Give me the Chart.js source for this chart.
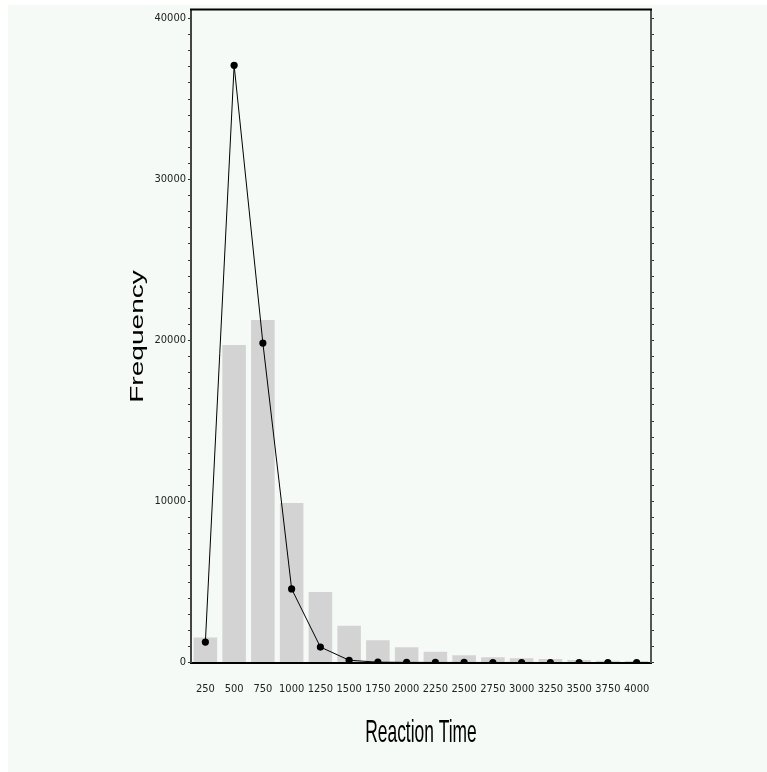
<!DOCTYPE html>
<html>
<head>
<meta charset="utf-8">
<script src="https://cdn.jsdelivr.net/npm/chart.js@4/dist/chart.umd.min.js"></script>
<style>
  html, body { margin: 0; padding: 0; background: #ffffff; }
  #frame { position: absolute; left: 8px; top: 5px; width: 759px; height: 767px; background: #f5faf7; }
  #chart { position: absolute; left: 0; top: 0; }
</style>
</head>
<body>
<div id="frame"></div>
<canvas id="chart" width="767" height="772"></canvas>
<script>
// Reaction time bins (ms)
const categories = ["250", "500", "750", "1000", "1250", "1500", "1750", "2000",
  "2250", "2500", "2750", "3000", "3250", "3500", "3750", "4000"];

// grey histogram bars
const barCounts = [1550, 19720, 21270, 9900, 4380, 2290, 1380, 940,
  670, 450, 320, 260, 215, 155, 110, 90];

// black line with dots
const lineCounts = [1270, 37090, 19840, 4570, 960, 140, 20, 8,
  4, 2, 1, 1, 0, 0, 0, 0];

// y axis: minor tick every 1000, labelled ones
const yMin = 0;
const yMax = 40560;
const yMinorStep = 1000;
const yLabels = [0, 10000, 20000, 30000, 40000];

const TICK_FONT = { family: "'Liberation Sans Narrow', 'DejaVu Sans Condensed', 'Liberation Sans', Arial, sans-serif", size: 11 };

function minorTicks(scale) {
  const ticks = [];
  for (let v = yMin; v <= yMax; v += yMinorStep) ticks.push({ value: v });
  scale.ticks = ticks;
}

// axis titles are stretched like in the original picture
const axisTitles = {
  id: "axisTitles",
  afterDraw(chart) {
    const ctx = chart.ctx;
    ctx.save();
    ctx.fillStyle = "#000";
    ctx.textAlign = "center";
    ctx.textBaseline = "alphabetic";

    ctx.font = "18.6px 'Liberation Sans', Arial, sans-serif";
    ctx.save();
    ctx.translate(143, 336.5);
    ctx.rotate(-Math.PI / 2);
    ctx.scale(1.51, 1);
    ctx.fillText("Frequency", 0, 0);
    ctx.restore();

    ctx.font = "17.4px 'Liberation Sans', Arial, sans-serif";
    ctx.save();
    ctx.translate(421, 741.7);
    ctx.scale(1, 1.8);
    ctx.fillText("Reaction Time", 0, 0);
    ctx.restore();

    // top frame line
    const a = chart.chartArea;
    ctx.strokeStyle = "#000";
    ctx.lineWidth = 2;
    ctx.beginPath();
    ctx.moveTo(a.left - 1, a.top);
    ctx.lineTo(a.right + 1, a.top);
    ctx.stroke();
    ctx.restore();
  },
};

new Chart(document.getElementById("chart"), {
  data: {
    labels: categories,
    datasets: [
      {
        type: "line",
        data: lineCounts,
        borderColor: "#000",
        borderWidth: 1,
        pointRadius: 3.6,
        pointBackgroundColor: "#000",
        pointBorderColor: "#000",
        pointBorderWidth: 0,
        tension: 0,
        order: 0,
      },
      {
        type: "bar",
        data: barCounts,
        backgroundColor: "#d3d3d3",
        borderWidth: 0,
        barPercentage: 0.82,
        categoryPercentage: 1,
        order: 1,
      },
    ],
  },
  options: {
    responsive: false,
    animation: false,
    devicePixelRatio: 1,
    layout: { padding: { top: 9.5, left: 0, right: 0, bottom: 0 } },
    plugins: { legend: { display: false }, tooltip: { enabled: false } },
    scales: {
      x: {
        type: "category",
        offset: true,
        grid: { display: true, drawOnChartArea: false, drawTicks: false },
        border: { display: true, color: "#000", width: 2 },
        ticks: { color: "#222", font: TICK_FONT, padding: 20, maxRotation: 0, autoSkip: false },
        afterFit(scale) { scale.height = 109.5; },
      },
      y: {
        position: "left",
        min: yMin,
        max: yMax,
        afterBuildTicks: minorTicks,
        grid: { drawOnChartArea: false, tickLength: 3, tickColor: "#333", tickWidth: 1 },
        border: { display: true, color: "#444", width: 2 },
        ticks: {
          autoSkip: false,
          color: "#222",
          font: TICK_FONT,
          padding: 2,
          callback: (v) => (yLabels.includes(Math.round(v)) ? String(Math.round(v)) : ""),
        },
        afterFit(scale) { scale.width = 191; },
      },
      y2: {
        position: "right",
        min: yMin,
        max: yMax,
        afterBuildTicks: minorTicks,
        grid: { drawOnChartArea: false, tickLength: 3, tickColor: "#333", tickWidth: 1 },
        border: { display: true, color: "#555", width: 2 },
        ticks: { autoSkip: false, display: false },
        afterFit(scale) { scale.width = 116; },
      },
    },
  },
  plugins: [axisTitles],
});
</script>
</body>
</html>
